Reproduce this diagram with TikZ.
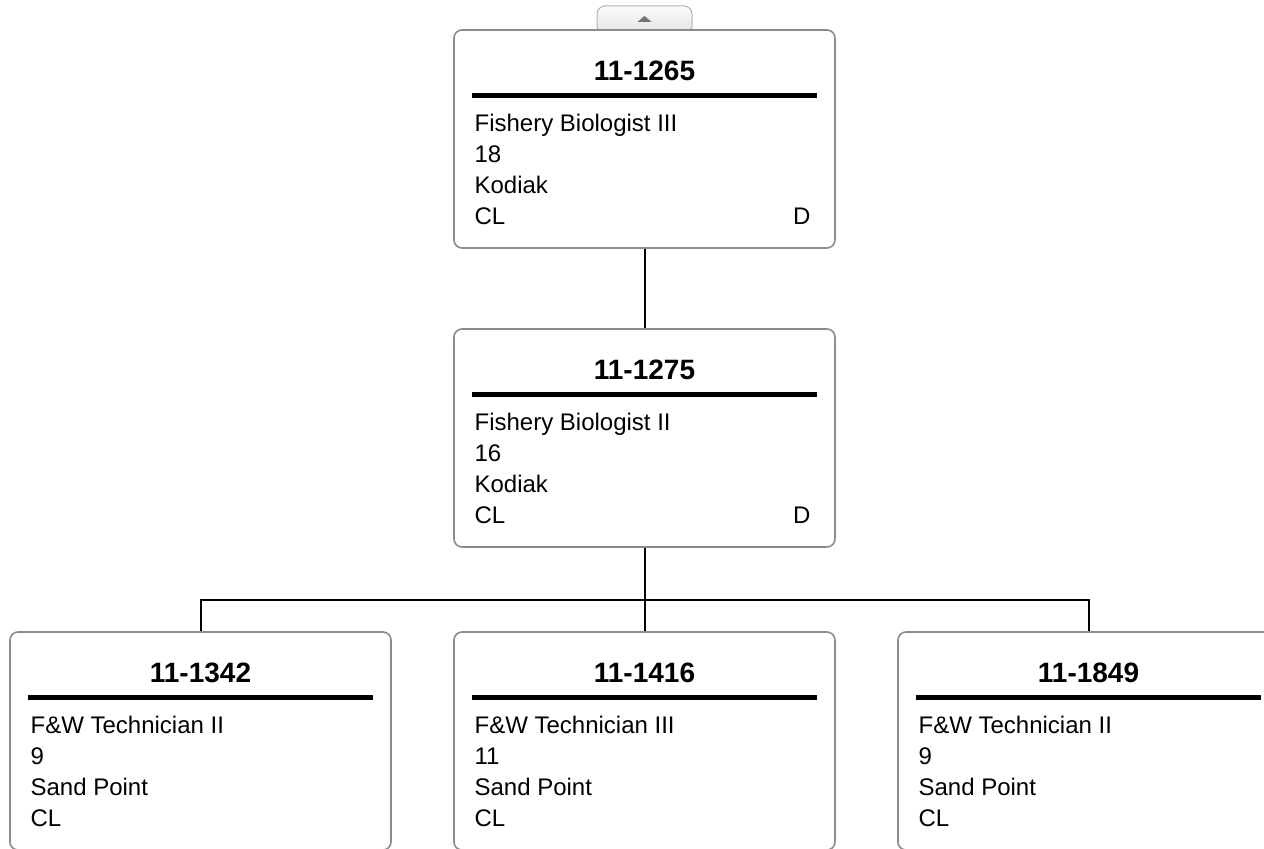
\documentclass[tikz,border=0pt]{standalone}
\usepackage{fontspec}
\setmainfont{Liberation Sans}
\usetikzlibrary{calc}

\begin{document}
\begin{tikzpicture}[
    x=0.5pt, y=-0.5pt,
    % Node styles
    posbox/.style={
        rectangle, rounded corners=4pt,
        draw=black!45, line width=0.8pt, fill=white,
        minimum width=190.5pt, minimum height=109pt,
        inner sep=0pt
    },
    tabbox/.style={
        rectangle, rounded corners=4pt,
        draw=black!30, line width=0.5pt,
        top color=gray!3, bottom color=gray!22,
        minimum width=47.5pt, minimum height=14pt,
        inner sep=0pt
    },
    idlbl/.style={font=\fontsize{14}{16}\selectfont\bfseries, anchor=base, inner sep=0pt},
    infolbl/.style={font=\fontsize{12}{15.5}\selectfont, align=left, anchor=north west, inner sep=0pt},
    flaglbl/.style={font=\fontsize{12}{15.5}\selectfont, anchor=base east, inner sep=0pt},
    rulebar/.style={line width=2.5pt},
    link/.style={line width=1pt},
]
\useasboundingbox (0,0) rectangle (1264,849);

%% ---- collapse tab ----
\node[tabbox] (tab) at (644.5, 20) {};
\fill[black!55] ($(tab.center)+(-7,2)$) -- ($(tab.center)+(7,2)$) -- ($(tab.center)+(0,-4)$) -- cycle;

%% ---- LEVEL 1: 11-1265 ----
\node[posbox] (p1265) at (644.5, 139) {};
\node[idlbl] (p1265id) at ($(p1265.north)+(0,51)$) {11-1265};
\draw[rulebar] ($(p1265.north west)+(19,66)$) -- ($(p1265.north east)+(-19,66)$);
\node[infolbl] (p1265info) at ($(p1265.north west)+(21,85)$) {Fishery Biologist III\\18\\Kodiak\\CL};
\node[flaglbl] (p1265flag) at ($(p1265.north east)+(-25,195)$) {D};

%% ---- LEVEL 2: 11-1275 ----
\node[posbox] (p1275) at (644.5, 438) {};
\node[idlbl] (p1275id) at ($(p1275.north)+(0,51)$) {11-1275};
\draw[rulebar] ($(p1275.north west)+(19,66)$) -- ($(p1275.north east)+(-19,66)$);
\node[infolbl] (p1275info) at ($(p1275.north west)+(21,85)$) {Fishery Biologist II\\16\\Kodiak\\CL};
\node[flaglbl] (p1275flag) at ($(p1275.north east)+(-25,195)$) {D};

%% ---- LEVEL 3: 11-1342 ----
\node[posbox] (p1342) at (200.5, 741) {};
\node[idlbl] (p1342id) at ($(p1342.north)+(0,51)$) {11-1342};
\draw[rulebar] ($(p1342.north west)+(19,66)$) -- ($(p1342.north east)+(-19,66)$);
\node[infolbl] (p1342info) at ($(p1342.north west)+(21,85)$) {F\&W Technician II\\9\\Sand Point\\CL};

%% ---- LEVEL 3: 11-1416 ----
\node[posbox] (p1416) at (644.5, 741) {};
\node[idlbl] (p1416id) at ($(p1416.north)+(0,51)$) {11-1416};
\draw[rulebar] ($(p1416.north west)+(19,66)$) -- ($(p1416.north east)+(-19,66)$);
\node[infolbl] (p1416info) at ($(p1416.north west)+(21,85)$) {F\&W Technician III\\11\\Sand Point\\CL};

%% ---- LEVEL 3: 11-1849 ----
\node[posbox] (p1849) at (1088.5, 741) {};
\node[idlbl] (p1849id) at ($(p1849.north)+(0,51)$) {11-1849};
\draw[rulebar] ($(p1849.north west)+(19,66)$) -- ($(p1849.north east)+(-19,66)$);
\node[infolbl] (p1849info) at ($(p1849.north west)+(21,85)$) {F\&W Technician II\\9\\Sand Point\\CL};

%% ---- CONNECTORS ----
\coordinate (split) at (644.5, 600);
\draw[link] (p1265) -- (p1275);
\draw[link] (p1275) -- (split) -- (p1416);
\draw[link] (p1342.north) |- (split) -| (p1849.north);

\end{tikzpicture}
\end{document}
